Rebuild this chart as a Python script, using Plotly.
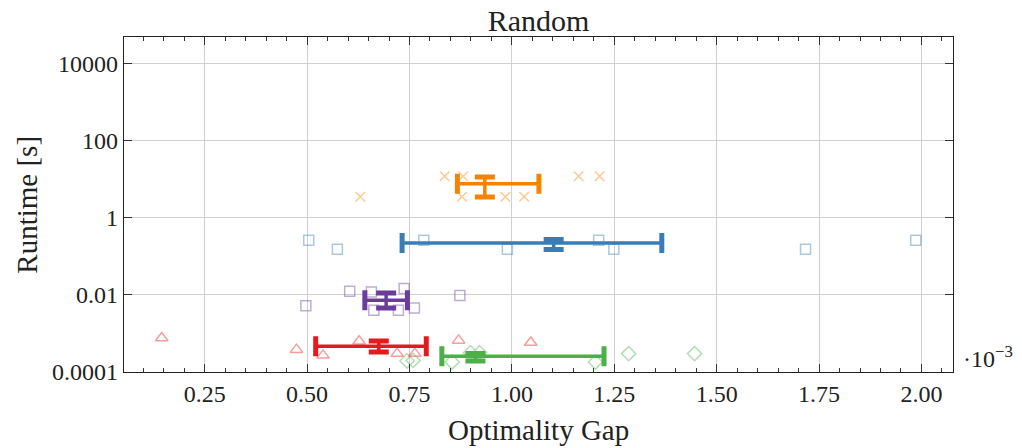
import plotly.graph_objects as go

# ---------------- data (x in units of 1e-3, runtime in seconds) ----------------
X_TICKS = [0.25, 0.50, 0.75, 1.00, 1.25, 1.50, 1.75, 2.00]
X_TICK_TEXT = ["0.25", "0.50", "0.75", "1.00", "1.25", "1.50", "1.75", "2.00"]
Y_TICKS = [1e-4, 1e-2, 1, 100, 1e4]
Y_TICK_TEXT = ["0.0001", "0.01", "1", "100", "10000"]
X_RANGE = [0.053, 2.077]
Y_LOG_RANGE = [-4.0, 4.69]

ORANGE_X = [0.630, 0.836, 0.881, 0.878, 0.984, 1.030, 1.163, 1.214]
ORANGE_Y = [3.5, 12.0, 12.0, 3.5, 3.5, 3.5, 12.0, 12.0]
ORANGE_SUM_X = [0.867, 0.934, 1.066]   # low, centre, high
ORANGE_SUM_Y = [3.46, 7.7, 11.4]

BLUE_X = [0.504, 0.574, 0.785, 0.989, 1.212, 1.249, 1.717, 1.986]
BLUE_Y = [0.261, 0.152, 0.261, 0.152, 0.261, 0.152, 0.152, 0.261]
BLUE_SUM_X = [0.732, 1.102, 1.366]
BLUE_SUM_Y = [0.150, 0.222, 0.272]

PURPLE_X = [0.497, 0.604, 0.657, 0.663, 0.723, 0.737, 0.762, 0.873]
PURPLE_Y = [0.0052, 0.0124, 0.0119, 0.0040, 0.0040, 0.0146, 0.0046, 0.0096]
PURPLE_SUM_X = [0.641, 0.693, 0.745]
PURPLE_SUM_Y = [0.00457, 0.00724, 0.0112]

RED_X = [0.145, 0.474, 0.539, 0.627, 0.720, 0.763, 0.870, 1.046]
RED_Y = [0.00076, 0.00038, 0.00027, 0.00063, 0.00030, 0.00030, 0.00066, 0.00058]
RED_SUM_X = [0.521, 0.675, 0.791]
RED_SUM_Y = [0.00033, 0.000464, 0.000637]

GREEN_X = [0.744, 0.759, 0.854, 0.899, 0.921, 1.204, 1.285, 1.446]
GREEN_Y = [0.000193, 0.000200, 0.000182, 0.000318, 0.000318, 0.000182, 0.000300, 0.000300]
GREEN_SUM_X = [0.829, 0.911, 1.225]
GREEN_SUM_Y = [0.000193, 0.000255, 0.000300]

SERIES = [
    ("#f58200", "x-thin-open", 9.5, ORANGE_X, ORANGE_Y, ORANGE_SUM_X, ORANGE_SUM_Y),
    ("#377eb8", "square-open", 10, BLUE_X, BLUE_Y, BLUE_SUM_X, BLUE_SUM_Y),
    ("#6a3d9a", "square-open", 10, PURPLE_X, PURPLE_Y, PURPLE_SUM_X, PURPLE_SUM_Y),
    ("#e41a1c", "triangle-up-open", 11, RED_X, RED_Y, RED_SUM_X, RED_SUM_Y),
    ("#4daf4a", "diamond-open", 11, GREEN_X, GREEN_Y, GREEN_SUM_X, GREEN_SUM_Y),
]

FONT = "Liberation Serif"
LINE_T = 3.5
CAP_T = 5
CAP_W = 10

fig = go.Figure()
invisible = dict(size=1, color="rgba(0,0,0,0)")

# scattered points first
for color, symbol, size, xs, ys, sx, sy in SERIES:
    fig.add_trace(go.Scatter(
        x=xs, y=ys, mode="markers", opacity=0.42, showlegend=False,
        marker=dict(symbol=symbol, size=size, color=color,
                    line=dict(color=color, width=1.5)),
    ))

# summary error bars on top
for color, symbol, size, xs, ys, sx, sy in SERIES:
    lo_x, mid_x, hi_x = sx
    lo_y, mid_y, hi_y = sy
    fig.add_trace(go.Scatter(
        x=[mid_x], y=[mid_y], mode="markers", marker=invisible, showlegend=False,
        error_x=dict(type="data", symmetric=False, array=[hi_x - mid_x],
                     arrayminus=[mid_x - lo_x], thickness=LINE_T, width=0, color=color),
        error_y=dict(type="data", symmetric=False, array=[hi_y - mid_y],
                     arrayminus=[mid_y - lo_y], thickness=LINE_T, width=0, color=color),
    ))
    fig.add_trace(go.Scatter(
        x=[lo_x, hi_x], y=[mid_y, mid_y], mode="markers", marker=invisible, showlegend=False,
        error_x=dict(type="data", array=[0, 0], thickness=CAP_T, width=CAP_W, color=color),
    ))
    fig.add_trace(go.Scatter(
        x=[mid_x, mid_x], y=[lo_y, hi_y], mode="markers", marker=invisible, showlegend=False,
        error_y=dict(type="data", array=[0, 0], thickness=CAP_T, width=CAP_W, color=color),
    ))

axis_common = dict(
    showline=True, linecolor="#222222", linewidth=1.2, mirror="ticks",
    ticks="inside", ticklen=8, tickwidth=1.2, tickcolor="#333333",
    showgrid=True, gridcolor="#d0d0d0", gridwidth=1, zeroline=False,
    tickfont=dict(family=FONT, size=24, color="#222222"),
)

fig.update_xaxes(
    **axis_common, range=X_RANGE, tickmode="array", tickvals=X_TICKS, ticktext=X_TICK_TEXT,
    minor=dict(ticks="inside", ticklen=4, tickwidth=1, tickcolor="#333333",
               dtick=0.05, tick0=0, showgrid=False),
)
fig.update_yaxes(
    **axis_common, type="log", range=Y_LOG_RANGE, tickmode="array",
    tickvals=Y_TICKS, ticktext=Y_TICK_TEXT,
)

fig.update_layout(
    width=1022, height=448,
    margin=dict(l=124, r=69, t=37, b=76),
    plot_bgcolor="white", paper_bgcolor="white",
    font=dict(family=FONT, color="#222222"),
    title=dict(text="Random", x=0.5, xref="paper", xanchor="center",
               y=1 - 20 / 448, yref="container", yanchor="middle",
               font=dict(family=FONT, size=30, color="#222222")),
    annotations=[
        dict(text="Optimality Gap", xref="paper", yref="paper", x=0.5, y=-0.172,
             xanchor="center", yanchor="middle", showarrow=False,
             font=dict(family=FONT, size=29, color="#222222")),
        dict(text="Runtime [s]", xref="paper", yref="paper", x=-0.118, y=0.5,
             xanchor="center", yanchor="middle", textangle=-90, showarrow=False,
             font=dict(family=FONT, size=29, color="#222222")),
        dict(text="·10<sup>−3</sup>", xref="paper", yref="paper", x=1.01, y=0.045,
             xanchor="left", yanchor="middle", showarrow=False,
             font=dict(family=FONT, size=24, color="#222222")),
    ],
)

fig.write_html("out.html")
